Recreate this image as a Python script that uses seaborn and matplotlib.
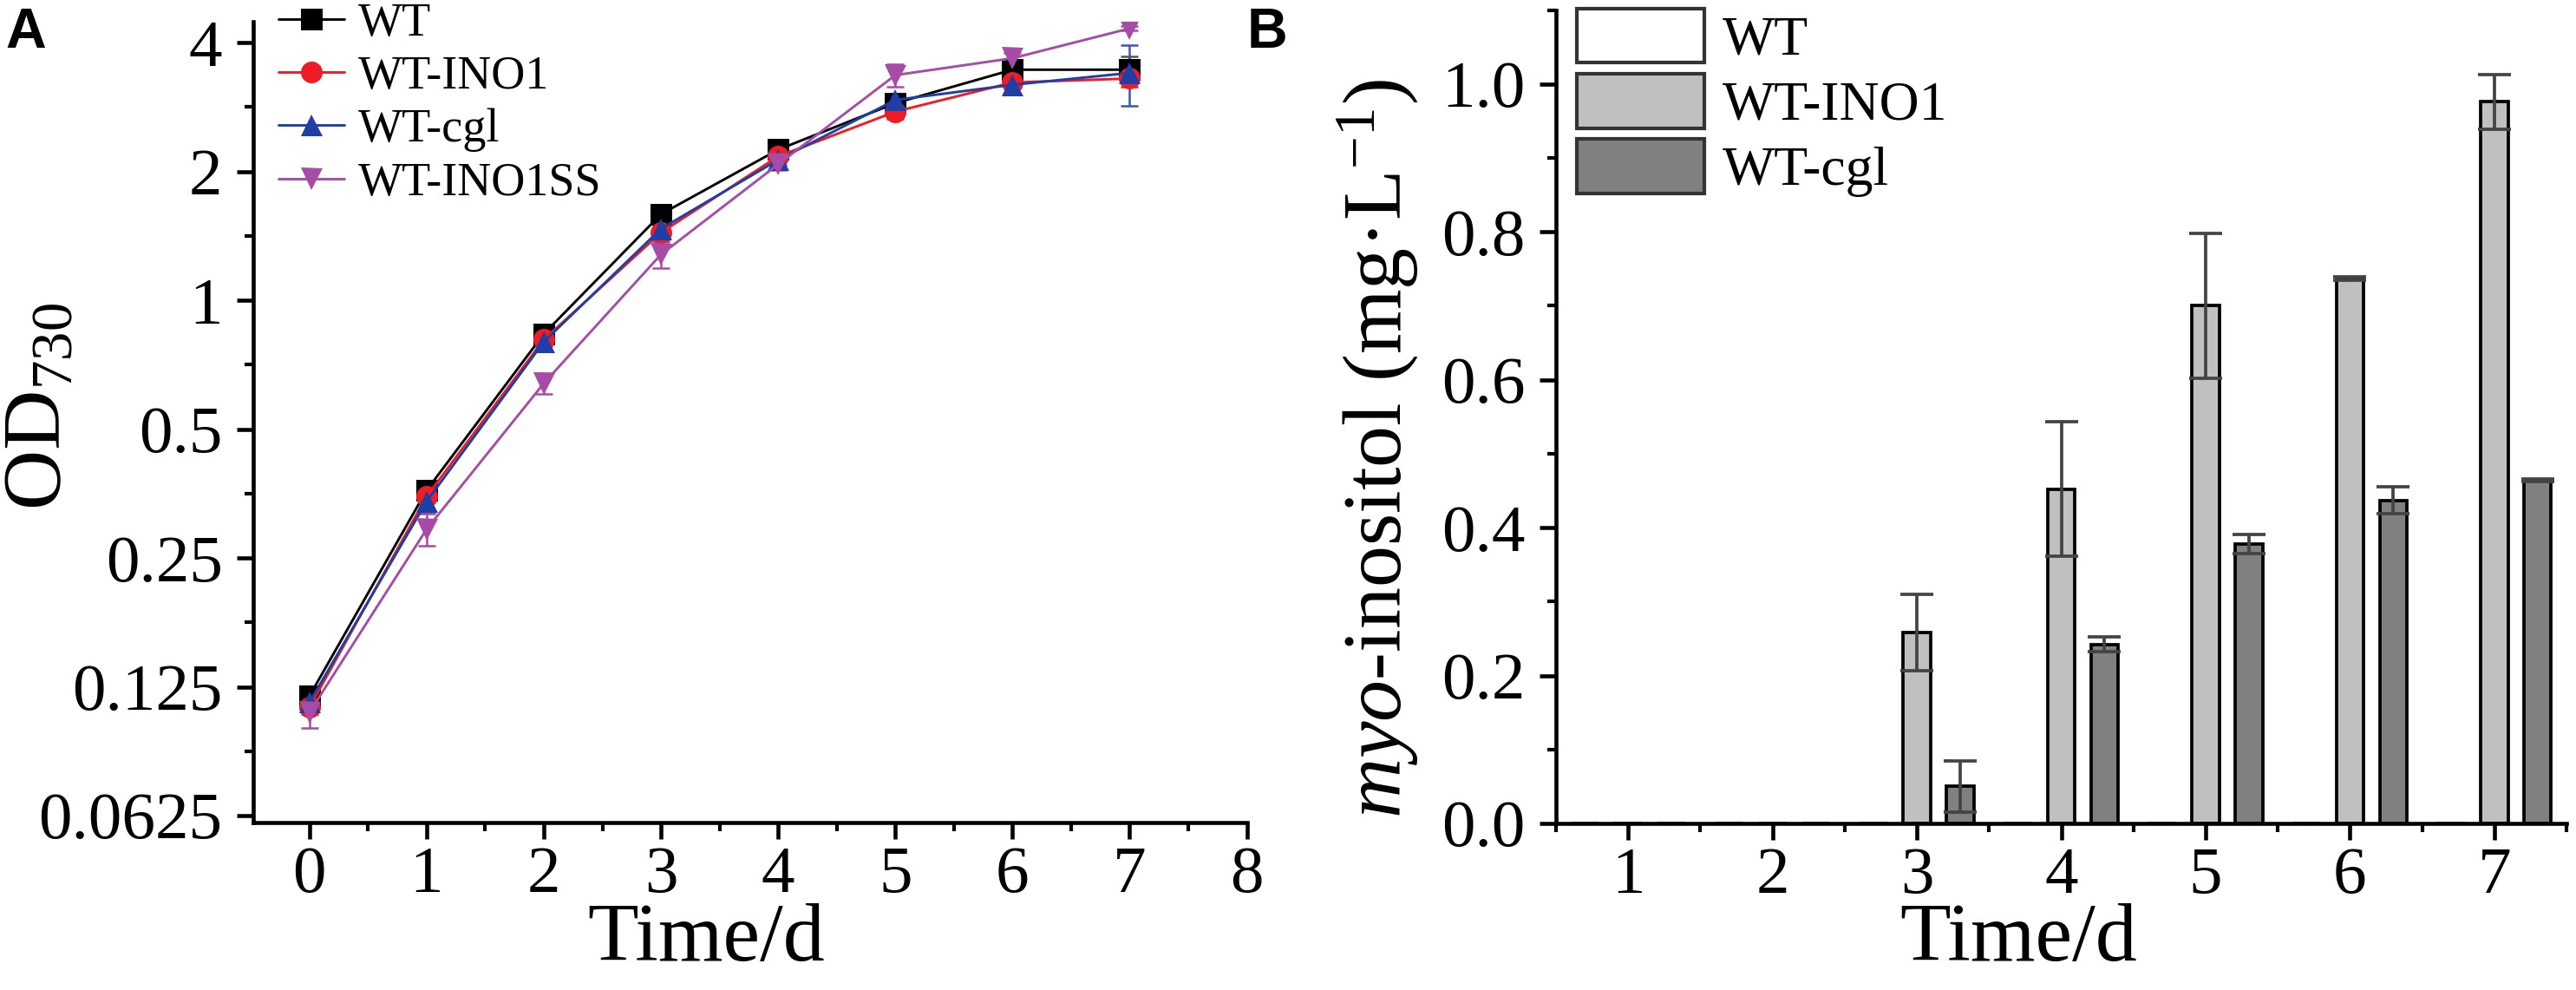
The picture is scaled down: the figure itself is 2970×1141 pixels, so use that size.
import numpy as np
import pandas as pd
import seaborn as sns
import matplotlib
matplotlib.use('Agg')
import matplotlib.pyplot as plt
from matplotlib.ticker import FixedLocator, FixedFormatter, MultipleLocator, NullFormatter, FormatStrFormatter
from matplotlib.lines import Line2D
from matplotlib.patches import Patch

# ---- panel A: growth (OD730) ----
days_a = [0, 1, 2, 3, 4, 5, 6, 7]
strains_a = ['WT', 'WT-INO1', 'WT-cgl', 'WT-INO1SS']
od_wt = [0.119, 0.360, 0.835, 1.59, 2.25, 2.89, 3.46, 3.46]
od_ino1 = [0.112, 0.348, 0.81, 1.44, 2.17, 2.76, 3.23, 3.30]
od_cgl = [0.115, 0.339, 0.80, 1.47, 2.13, 2.94, 3.19, 3.40]
od_ino1ss = [0.109, 0.292, 0.64, 1.28, 2.08, 3.36, 3.68, 4.32]
sd_wt = [0.004, 0.01, 0.02, 0.03, 0.05, 0.08, 0.10, 0.25]
sd_ino1 = [0.004, 0.01, 0.03, 0.06, 0.06, 0.10, 0.10, 0.15]
sd_cgl = [0.004, 0.02, 0.04, 0.05, 0.06, 0.10, 0.16, 0.55]
sd_ino1ss = [0.009, 0.025, 0.035, 0.09, 0.06, 0.20, 0.10, 0.05]

# ---- panel B: myo-inositol ----
days_b = ['1', '2', '3', '4', '5', '6', '7']
strains_b = ['WT', 'WT-INO1', 'WT-cgl']
ino_wt = [0, 0, 0, 0, 0, 0, 0]
ino_ino1 = [0, 0, 0.258, 0.452, 0.700, 0.737, 0.976]
ino_cgl = [0, 0, 0.050, 0.242, 0.378, 0.437, 0.464]
sd_ino_wt = [0, 0, 0, 0, 0, 0, 0]
sd_ino_ino1 = [0, 0, 0.052, 0.091, 0.098, 0.002, 0.037]
sd_ino_cgl = [0, 0, 0.035, 0.010, 0.013, 0.018, 0.002]

line_colors = ['#000000', '#ee1c25', '#1f3fa6', '#a64ca6']
err_colors = ['#555555', '#ee1c25', '#3a55b0', '#a64ca6']
marker_list = ['s', 'o', '^', 'v']
bar_colors = ['#ffffff', '#c0c0c0', '#808080']

sns.set_style('ticks')
plt.rcParams['font.family'] = ['Liberation Serif', 'DejaVu Serif']
plt.rcParams['mathtext.fontset'] = 'custom'
plt.rcParams['mathtext.rm'] = 'Liberation Serif'
plt.rcParams['mathtext.it'] = 'Liberation Serif:italic'
plt.rcParams['axes.linewidth'] = 1.1
for key in ['text.color', 'axes.labelcolor', 'axes.edgecolor', 'xtick.color', 'ytick.color']:
    plt.rcParams[key] = 'black'

W, H = 2970, 1141
fig = plt.figure(figsize=(W / 300, H / 300), dpi=300)
ax1 = fig.add_axes([292 / W, 1 - 948 / H, (1437.5 - 292) / W, (948 - 25) / H])
ax2 = fig.add_axes([1794 / W, 1 - 949 / H, (2959 - 1794) / W, (949 - 11.5) / H])

tick_fs = 18.5
label_fs = 23

# ---------- A ----------
od_all = [od_wt, od_ino1, od_cgl, od_ino1ss]
sd_all = [sd_wt, sd_ino1, sd_cgl, sd_ino1ss]
rows = []
for name, vals, sds in zip(strains_a, od_all, sd_all):
    for d, v, s in zip(days_a, vals, sds):
        rows.append([name, d, v, s])
df_a = pd.DataFrame(rows, columns=['Strain', 'Time', 'OD', 'SD'])

sns.lineplot(data=df_a, x='Time', y='OD', hue='Strain', style='Strain',
             hue_order=strains_a, style_order=strains_a,
             palette=line_colors, markers=marker_list, dashes=False,
             markersize=6, markeredgewidth=0, linewidth=0.7,
             errorbar=None, legend=False, ax=ax1)
for i, name in enumerate(strains_a):
    sub = df_a[df_a['Strain'] == name]
    ax1.errorbar(sub['Time'], sub['OD'], yerr=sub['SD'], fmt='none',
                 ecolor=err_colors[i], elinewidth=0.6, capsize=2.3, capthick=0.6, zorder=1.5)

ax1.set_yscale('log', base=2)
ax1.set_ylim(0.0602, 4.48)
ax1.set_xlim(-0.48, 8)
yt = [0.0625, 0.125, 0.25, 0.5, 1, 2, 4]
ax1.yaxis.set_major_locator(FixedLocator(yt))
ax1.yaxis.set_major_formatter(FixedFormatter(['0.0625', '0.125', '0.25', '0.5', '1', '2', '4']))
ax1.yaxis.set_minor_locator(FixedLocator([2 ** (k + 0.5) for k in range(-4, 2)]))
ax1.yaxis.set_minor_formatter(NullFormatter())
ax1.xaxis.set_major_locator(FixedLocator(range(0, 9)))
ax1.xaxis.set_minor_locator(MultipleLocator(0.5))
sns.despine(ax=ax1)
ax1.set_xlabel('Time/d', fontsize=label_fs)
ax1.set_ylabel(r'OD$_{730}$', fontsize=label_fs)
ax1.yaxis.set_label_coords(-0.176, 0.52)
ax1.xaxis.set_label_coords(0.456, -0.10)

handles_a = [Line2D([], [], color=c, marker=m, markersize=6, markeredgewidth=0, linewidth=0.7)
             for c, m in zip(line_colors, marker_list)]
ax1.legend(handles_a, strains_a, loc='upper left', bbox_to_anchor=(321 / W, 1 - 2 / H),
           bbox_transform=fig.transFigure, frameon=False, fontsize=13,
           handlelength=1.4, handletextpad=0.3, labelspacing=0.2, borderpad=0, borderaxespad=0)

# ---------- B ----------
ino_all = [ino_wt, ino_ino1, ino_cgl]
sd_ino_all = [sd_ino_wt, sd_ino_ino1, sd_ino_cgl]
rows = []
for name, vals, sds in zip(strains_b, ino_all, sd_ino_all):
    for d, v, s in zip(days_b, vals, sds):
        rows.append([name, d, v, s])
df_b = pd.DataFrame(rows, columns=['Strain', 'Time', 'Inositol', 'SD'])

sns.barplot(data=df_b, x='Time', y='Inositol', hue='Strain', order=days_b, hue_order=strains_b,
            palette=bar_colors, width=0.9, gap=0.37, errorbar=None, legend=False,
            edgecolor='black', linewidth=0.9, saturation=1, ax=ax2)
for cont, sds in zip(ax2.containers, sd_ino_all):
    xs = [r.get_x() + r.get_width() / 2 for r in cont]
    ys = [r.get_height() for r in cont]
    for x, y, s in zip(xs, ys, sds):
        if s > 0:
            ax2.errorbar(x, y, yerr=s, fmt='none', ecolor='#444444', elinewidth=0.9,
                         capsize=4.5, capthick=0.9, zorder=3)

ax2.set_ylim(0, 1.1)
ax2.set_xlim(-0.5, 6.5)
ax2.yaxis.set_major_locator(MultipleLocator(0.2))
ax2.yaxis.set_major_formatter(FormatStrFormatter('%.1f'))
ax2.yaxis.set_minor_locator(MultipleLocator(0.1))
ax2.xaxis.set_minor_locator(FixedLocator(np.arange(-0.5, 7, 1.0)))
sns.despine(ax=ax2)
ax2.set_xlabel('Time/d', fontsize=label_fs)
ax2.set_ylabel(r'$\mathit{myo}$-inositol (mg·L$^{-1}$)', fontsize=label_fs)
ax2.yaxis.set_label_coords(-0.134, 0.461)
ax2.xaxis.set_label_coords(0.458, -0.098)

handles_b = [Patch(facecolor=c, edgecolor='#333333', linewidth=1.0) for c in bar_colors]
ax2.legend(handles_b, strains_b, loc='upper left', bbox_to_anchor=(1818 / W, 1 - 10 / H),
           bbox_transform=fig.transFigure, frameon=False, fontsize=15.3,
           handlelength=2.3, handleheight=1.13, handletextpad=0.33, labelspacing=0.13,
           borderpad=0, borderaxespad=0)

for ax in (ax1, ax2):
    ax.tick_params(which='major', direction='out', length=4.5, width=1.1, labelsize=tick_fs, colors='black')
    ax.tick_params(which='minor', direction='out', length=2.4, width=1.0)
    ax.tick_params(axis='y', which='major', pad=4)
    ax.tick_params(axis='x', which='major', pad=2)

fig.text(6 / W, 1 - 8 / H, 'A', fontsize=15.5, fontweight='bold', family='Liberation Sans', va='top')
fig.text(1438 / W, 1 - 8 / H, 'B', fontsize=15.5, fontweight='bold', family='Liberation Sans', va='top')

fig.savefig('out.png', dpi=300)
